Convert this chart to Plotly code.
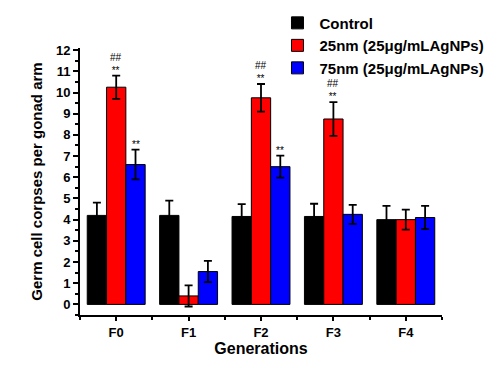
import plotly.graph_objects as go

categories = ["F0", "F1", "F2", "F3", "F4"]
control = [4.2, 4.2, 4.15, 4.15, 4.0]
control_err = [0.6, 0.7, 0.58, 0.6, 0.65]
nm25 = [10.25, 0.4, 9.75, 8.75, 4.0]
nm25_err = [0.55, 0.5, 0.65, 0.8, 0.47]
nm75 = [6.6, 1.55, 6.5, 4.25, 4.1]
nm75_err = [0.7, 0.5, 0.52, 0.45, 0.55]
nm25_marks = ["##<br>**", "", "##<br>**", "##<br>**", ""]
nm75_marks = ["**", "", "**", "", ""]

names = ["Control", "25nm (25\u03bcg/mLAgNPs)", "75nm (25\u03bcg/mLAgNPs)"]
colors = ["#000000", "#ff0000", "#0000ff"]

font_family = "Arial, Liberation Sans, sans-serif"
xpos = list(range(len(categories)))

fig = go.Figure()
for vals, errs, name, col in zip([control, nm25, nm75], [control_err, nm25_err, nm75_err], names, colors):
    fig.add_trace(go.Bar(
        x=xpos, y=vals, name=name,
        marker=dict(color=col, line=dict(color="#000000", width=1)),
        error_y=dict(type="data", array=errs, color="#000000", thickness=1.8, width=4),
    ))

bar_w = 0.8 / 3
for marks, vals, errs, off in [(nm25_marks, nm25, nm25_err, 0.0), (nm75_marks, nm75, nm75_err, bar_w)]:
    for xi, m, v, e in zip(xpos, marks, vals, errs):
        if m:
            fig.add_annotation(x=xi + off, y=v + e, text=m, showarrow=False,
                               yanchor="bottom", yshift=-2,
                               font=dict(family=font_family, size=10, color="#000000"))

fig.update_layout(
    width=501, height=368,
    margin=dict(l=72, r=67, t=40, b=61, autoexpand=False),
    paper_bgcolor="white", plot_bgcolor="white",
    barmode="group", bargap=0.2, bargroupgap=0,
    font=dict(family=font_family, color="#000000"),
    showlegend=True,
    legend=dict(x=0.54, y=1.155, xanchor="left", yanchor="top",
                font=dict(size=15, weight="bold"), itemwidth=34,
                tracegroupgap=0, bgcolor="rgba(0,0,0,0)"),
)
fig.update_xaxes(
    range=[-0.5, 4.5], showline=True, linecolor="#000000", linewidth=2,
    tickmode="array", tickvals=xpos, ticktext=categories,
    ticks="outside", ticklen=4, tickwidth=1.5, tickcolor="#000000",
    minor=dict(tickmode="array", tickvals=[i + 0.5 for i in range(-1, len(categories))],
               ticks="outside", ticklen=3, tickwidth=1.5, tickcolor="#000000"),
    tickfont=dict(size=13, weight="bold"),
    title=dict(text="Generations", font=dict(size=16, weight="bold"), standoff=3),
    showgrid=False, zeroline=False,
)
fig.update_yaxes(
    range=[-0.5, 12.1], showline=True, linecolor="#000000", linewidth=2,
    tickmode="array", tickvals=list(range(0, 13)),
    ticks="outside", ticklen=5, tickwidth=1.5, tickcolor="#000000",
    minor=dict(tickmode="array", tickvals=[i + 0.5 for i in range(-1, 12)], ticks="outside",
               ticklen=3, tickwidth=1.5, tickcolor="#000000"),
    tickfont=dict(size=13, weight="bold"),
    title=dict(text="Germ cell corpses per gonad arm", font=dict(size=15, weight="bold"), standoff=10),
    showgrid=False, zeroline=False,
)

fig.write_html("out.html")
